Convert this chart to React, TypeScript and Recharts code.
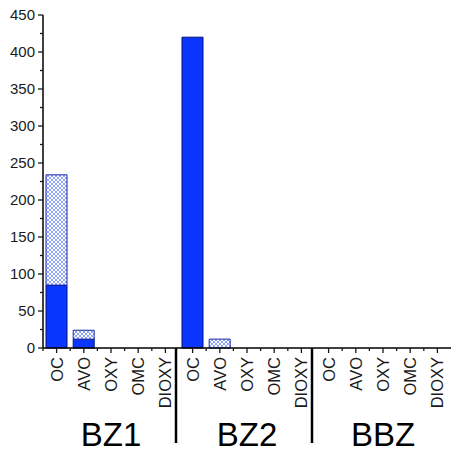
import { Bar, BarChart, XAxis, YAxis } from "recharts";

const compounds = ["OC", "AVO", "OXY", "OMC", "DIOXY"];
const sites = ["BZ1", "BZ2", "BBZ"];
// per site, per compound (site-major order)
const solidValues = [85, 12, 0, 0, 0, 420, 0, 0, 0, 0, 0, 0, 0, 0, 0];
const hatchedValues = [149, 12, 0, 0, 0, 0, 12, 0, 0, 0, 0, 0, 0, 0, 0];
const yTicks = [0, 25, 50, 75, 100, 125, 150, 175, 200, 225, 250, 275, 300, 325, 350, 375, 400, 425, 450];

const W = 452;
const H = 453;
const LEFT = 43;
const RIGHT = 1;
const BAND = (W - LEFT - RIGHT) / (compounds.length * sites.length);
const FONT = "'Liberation Sans', Arial, sans-serif";
const INK = "#1a1a1a";

const data = sites.flatMap((site, s) =>
  compounds.map((c, i) => {
    const k = s * compounds.length + i;
    return {
      key: `${site}-${c}`,
      compound: c,
      site,
      solid: solidValues[k] || null,
      hatched: hatchedValues[k] || null,
    };
  })
);

function YTick(props: any) {
  const { x, y, payload } = props;
  const major = payload.value % 50 === 0;
  return (
    <g>
      <line x1={x - (major ? 5 : 3)} x2={x} y1={y} y2={y} stroke={INK} strokeWidth={1.3} />
      {major && (
        <text x={x - 8} y={y} dy="0.36em" textAnchor="end" fontSize={15} fontFamily={FONT} fill={INK}>
          {payload.value}
        </text>
      )}
    </g>
  );
}

function XTick(props: any) {
  const { x, y, index } = props;
  const d = data[index];
  if (!d) return null;
  const i = index % compounds.length;
  const lastInGroup = i === compounds.length - 1;
  const lastOverall = index === data.length - 1;
  return (
    <g>
      <line x1={x} x2={x} y1={y} y2={y + 5} stroke={INK} strokeWidth={1.3} />
      {!lastInGroup && (
        <line x1={x + BAND / 2} x2={x + BAND / 2} y1={y} y2={y + 3} stroke={INK} strokeWidth={1.3} />
      )}
      {index === 0 && (
        <line x1={x - BAND / 2} x2={x - BAND / 2} y1={y} y2={y + 3} stroke={INK} strokeWidth={1.3} />
      )}
      <text
        transform={`translate(${x}, ${y + 9}) rotate(-90)`}
        dy="0.36em"
        textAnchor="end"
        fontSize={16.5}
        fontFamily={FONT}
        fill={INK}
      >
        {d.compound}
      </text>
      {lastInGroup && !lastOverall && (
        <line x1={x + BAND / 2 - 3} x2={x + BAND / 2 - 3} y1={y} y2={y + 95} stroke="#000" strokeWidth={2.5} />
      )}
      {i === 2 && (
        <text x={x} y={y + 98} textAnchor="middle" fontSize={33} fontFamily={FONT} fill="#000">
          {d.site}
        </text>
      )}
    </g>
  );
}

export default function App() {
  return (
    <div style={{ position: "absolute", left: 0, top: 0, width: W, height: H, background: "#fff" }}>
      <BarChart
        width={W}
        height={H}
        data={data}
        margin={{ top: 15, right: RIGHT, bottom: 0, left: 0 }}
        barCategoryGap={3}
      >
        <defs>
          <pattern id="xhatch" width={4} height={4} patternUnits="userSpaceOnUse">
            <rect width={4} height={4} fill="#ffffff" />
            <path d="M0,0 L4,4 M4,0 L0,4" stroke="#5a78f5" strokeWidth={0.7} />
          </pattern>
        </defs>
        <XAxis
          dataKey="key"
          interval={0}
          height={105}
          tickSize={0}
          tickMargin={0}
          tick={<XTick />}
          axisLine={{ stroke: "#000", strokeWidth: 1.5 }}
          tickLine={false}
        />
        <YAxis
          width={LEFT}
          domain={[0, 450]}
          ticks={yTicks}
          interval={0}
          tickSize={0}
          tickMargin={0}
          tick={<YTick />}
          axisLine={{ stroke: "#000", strokeWidth: 1.5 }}
          tickLine={false}
        />
        <Bar dataKey="solid" stackId="a" fill="#0a37ff" stroke="#00106e" strokeWidth={1} isAnimationActive={false} />
        <Bar dataKey="hatched" stackId="a" fill="url(#xhatch)" stroke="#1a2aa0" strokeWidth={1} isAnimationActive={false} />
      </BarChart>
    </div>
  );
}
